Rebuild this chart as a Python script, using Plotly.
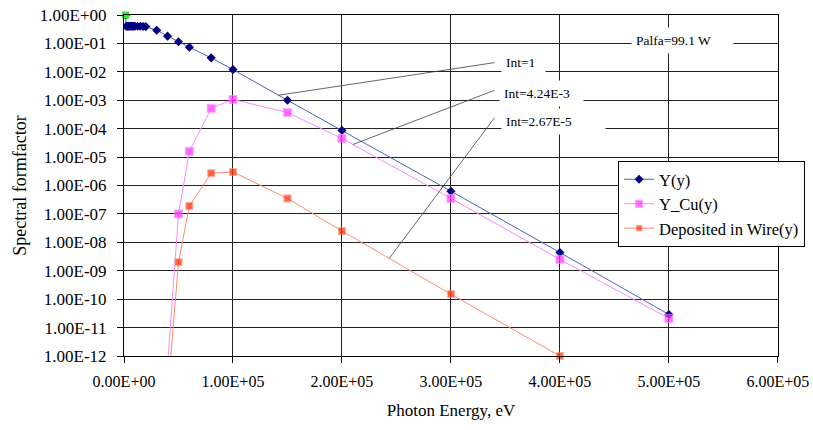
import numpy as np
import plotly.graph_objects as go

# ---------------- data ----------------
energy_Y = [1500, 2000, 3000, 4000, 5000, 6000, 7000, 8000, 9000, 10000, 12500, 15000, 17500, 20000,
            30000, 40000, 50000, 60000, 80000, 100000, 150000, 200000, 300000, 400000, 500000]
Y_vals = [1.0, 0.40, 0.40, 0.40, 0.40, 0.40, 0.40, 0.40, 0.40, 0.40, 0.40, 0.40, 0.395, 0.39,
          0.29, 0.18, 0.115, 0.073, 0.031, 0.012, 1.0e-3, 8.7e-5, 6.3e-7, 4.4e-9, 2.9e-11]

energy_Cu = [40000, 50000, 60000, 80000, 100000, 150000, 200000, 300000, 400000, 500000]
Y_Cu_vals = [5e-13, 1.0e-7, 1.6e-5, 5.2e-4, 1.07e-3, 3.7e-4, 4.5e-5, 3.5e-7, 2.5e-9, 2.1e-11]

energy_W = [40000, 50000, 60000, 80000, 100000, 150000, 200000, 300000, 400000, 500000]
Wire_vals = [4e-14, 2.0e-9, 1.9e-7, 2.7e-6, 3.0e-6, 3.5e-7, 2.5e-8, 1.5e-10, 1.0e-12, 1.0e-14]

energy_start = [1500]
start_vals = [1.0]

x_ticks = [0, 100000, 200000, 300000, 400000, 500000, 600000]
y_ticks = [10.0 ** -k for k in range(0, 13)]
x_labels = [f"{v:.2E}" for v in x_ticks]
y_labels = [f"{v:.2E}" for v in y_ticks]

series_names = ["Y(y)", "Y_Cu(y)", "Deposited in Wire(y)"]
int_labels = ["Int=1", "Int=4.24E-3", "Int=2.67E-5"]
palfa_label = "Palfa=99.1 W"

FONT = "Liberation Serif"
YMIN = 1e-12

def vis_sizes(vals, s):
    return [s if v >= YMIN * 0.999 else 0 for v in vals]

def interp_log(xs, ys, x):
    return float(10 ** np.interp(x, xs, np.log10(ys)))

fig = go.Figure()
fig.add_trace(go.Scatter(x=energy_Y, y=Y_vals, mode="lines+markers", name=series_names[0],
                         line=dict(color="#4a62c8", width=1),
                         marker=dict(symbol="diamond", size=7, color="#000080")))
fig.add_trace(go.Scatter(x=energy_Cu, y=Y_Cu_vals, mode="lines+markers", name=series_names[1],
                         line=dict(color="#ff88ff", width=1), cliponaxis=False,
                         marker=dict(symbol="square", size=vis_sizes(Y_Cu_vals, 8), color="#ff33ff")))
fig.add_trace(go.Scatter(x=energy_W, y=Wire_vals, mode="lines+markers", name=series_names[2],
                         line=dict(color="#ff8a70", width=1), cliponaxis=False,
                         marker=dict(symbol="square", size=vis_sizes(Wire_vals, 7), color="#ff2a00")))
fig.add_trace(go.Scatter(x=energy_start, y=start_vals, mode="markers", showlegend=False,
                         cliponaxis=False,
                         marker=dict(symbol="square", size=7, color="#22ee22")))

# leader lines: from label to curve
label_x = 340000
label_logy = [-1.676, -2.651, -3.613]
target_x = [141800, 210000, 243400]
curves = [(energy_Y, Y_vals), (energy_Cu, Y_Cu_vals), (energy_W, Wire_vals)]
for lx, ly, tx, (cx, cy) in zip([label_x] * 3, label_logy, target_x, curves):
    fig.add_shape(type="line", xref="x", yref="y", x0=lx, y0=10 ** ly,
                  x1=tx, y1=interp_log(cx, cy, tx), line=dict(color="#404040", width=0.8))

# labels with white boxes
ann_x = [346000, 344200, 346000]
ann_logy = [-1.665, -2.757, -3.743]
ann_w = [35, 75, 95]
for t, ax_, ay_, w in zip(int_labels, ann_x, ann_logy, ann_w):
    fig.add_annotation(text=t, x=ax_, y=ay_, xref="x", yref="y", xanchor="left", yanchor="middle",
                       showarrow=False, bgcolor="white", borderpad=4, width=w, height=17,
                       align="left", font=dict(family=FONT, size=13.5, color="black"))
fig.add_annotation(text=palfa_label, x=465400, y=-0.908, xref="x", yref="y", xanchor="left",
                   yanchor="middle", showarrow=False, bgcolor="white", borderpad=4, width=93,
                   height=17, align="left", font=dict(family=FONT, size=13.5, color="black"))

grid = "#222222"
fig.update_layout(
    width=813, height=430, autosize=False,
    margin=dict(l=124, r=35, t=15, b=74, autoexpand=False),
    paper_bgcolor="white", plot_bgcolor="white",
    font=dict(family=FONT, size=16, color="black"),
    showlegend=True,
    legend=dict(x=0.7555, y=0.5718, xanchor="left", yanchor="top",
                bgcolor="white", bordercolor="black", borderwidth=1,
                font=dict(family=FONT, size=16.5, color="black"), itemwidth=30),
    xaxis=dict(range=[0, 600000 * 1.0002], tickvals=x_ticks, ticktext=x_labels,
               automargin=False, ticklabeloverflow="allow",
               showgrid=True, gridcolor=grid, gridwidth=1, zeroline=False,
               showline=True, linecolor="black", linewidth=1, mirror=True,
               ticks="outside", ticklen=6, tickcolor="black", ticklabelstandoff=5,
               tickfont=dict(family=FONT, size=16),
               title=dict(text="Photon Energy, eV", font=dict(family=FONT, size=17), standoff=14)),
    yaxis=dict(type="log", range=[-12, 0], tickvals=y_ticks, ticktext=y_labels,
               automargin=False, ticklabeloverflow="allow",
               showgrid=True, gridcolor=grid, gridwidth=1, zeroline=False,
               showline=True, linecolor="black", linewidth=1, mirror=True,
               ticks="outside", ticklen=6, tickcolor="black", ticklabelstandoff=7,
               tickfont=dict(family=FONT, size=17),
               title=dict(text="Spectral formfactor", font=dict(family=FONT, size=18), standoff=8)),
)

fig.write_html("out.html", config={"displayModeBar": False},
               post_script="document.body.style.margin='0';")
